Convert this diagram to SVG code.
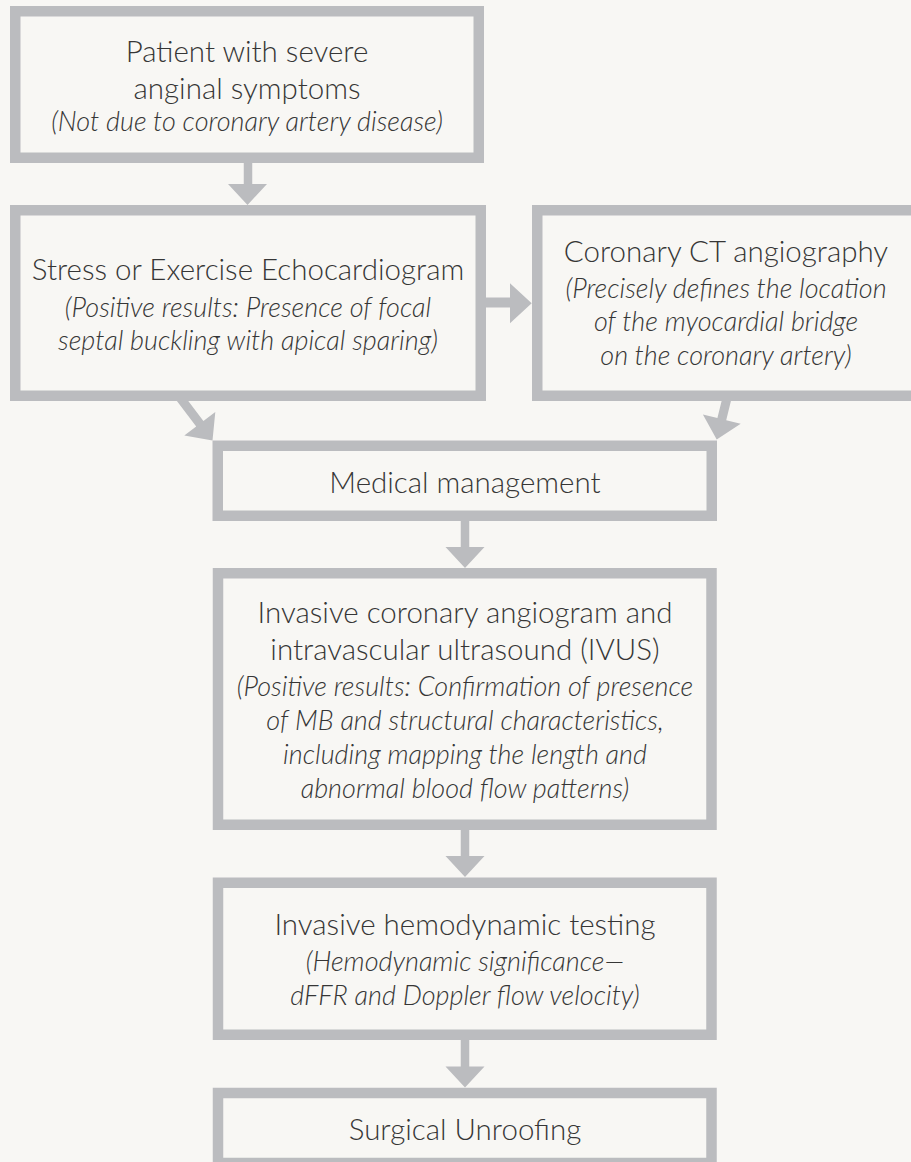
<svg xmlns="http://www.w3.org/2000/svg" width="911" height="1162" viewBox="0 0 911 1162">
<style>
.box{fill:none;stroke:#bbbcbf;stroke-width:10.5}
.arr{fill:#bbbcbf}
text{font-family:Lato,"Open Sans","Liberation Sans",sans-serif;font-weight:300;fill:#363636;text-anchor:middle}
.m{font-size:29.5px}
.i{font-size:27px;font-style:italic}
</style>
<rect width="911" height="1162" fill="#f8f7f4"/>
<g id="connectors">
<polygon class="arr" points="243.75,160 252.25,160 252.25,184 267,184 247.5,205 228,184 243.75,184"/>
<polygon class="arr" points="483,297.5 510,297.5 510,283.3 531.7,303.3 510,323.3 510,307.5 483,307.5"/>
<polygon class="arr" points="182.4,393.3 203.4,421.1 215.3,412 212.5,440.5 184.3,435.6 196.2,426.5 175.2,398.7"/>
<polygon class="arr" points="731.9,397.1 726.2,420.2 740.7,423.8 716.7,439.5 702.9,414.4 717.4,418 723.1,394.9"/>
<polygon class="arr" points="460.75,518 469.25,518 469.25,547 484.5,547 465,568 445.5,547 460.75,547"/>
<polygon class="arr" points="460.75,827 469.25,827 469.25,856 484.5,856 465,877 445.5,856 460.75,856"/>
<polygon class="arr" points="460.75,1037 469.25,1037 469.25,1066.5 484.5,1066.5 465,1087.5 445.5,1066.5 460.75,1066.5"/>
</g>
<g id="node-patient">
<rect class="box" x="15.25" y="11.25" width="463.5" height="146.5"/>
<text class="m" x="247" y="62">Patient with severe</text>
<text class="m" x="247" y="99">anginal symptoms</text>
<text class="i" x="247" y="131">(Not due to coronary artery disease)</text>
</g>
<g id="node-echo">
<rect class="box" x="15.25" y="210.25" width="465.5" height="185.5"/>
<text class="m" x="248" y="280">Stress or Exercise Echocardiogram</text>
<text class="i" x="248" y="316.5">(Positive results: Presence of focal</text>
<text class="i" x="248" y="350">septal buckling with apical sparing)</text>
</g>
<g id="node-ct">
<rect class="box" x="537.25" y="210.25" width="385" height="185.5"/>
<text class="m" x="726" y="261.5">Coronary CT angiography</text>
<text class="i" x="726" y="297.5">(Precisely defines the location</text>
<text class="i" x="726" y="331">of the myocardial bridge</text>
<text class="i" x="726" y="365">on the coronary artery)</text>
</g>
<g id="node-medical">
<rect class="box" x="217.75" y="445.75" width="494" height="70"/>
<text class="m" x="465" y="492.5">Medical management</text>
</g>
<g id="node-invasive">
<rect class="box" x="218" y="573.25" width="493.5" height="251.5"/>
<text class="m" x="465" y="623">Invasive coronary angiogram and</text>
<text class="m" x="465" y="660">intravascular ultrasound (IVUS)</text>
<text class="i" x="465" y="696">(Positive results: Confirmation of presence</text>
<text class="i" x="465" y="730">of MB and structural characteristics,</text>
<text class="i" x="465" y="764">including mapping the length and</text>
<text class="i" x="465" y="798">abnormal blood flow patterns)</text>
</g>
<g id="node-hemo">
<rect class="box" x="218" y="882.75" width="493.5" height="152"/>
<text class="m" x="465" y="935">Invasive hemodynamic testing</text>
<text class="i" x="465" y="971">(Hemodynamic significance—</text>
<text class="i" x="465" y="1005">dFFR and Doppler flow velocity)</text>
</g>
<g id="node-surgical">
<rect class="box" x="218" y="1093" width="493.5" height="70"/>
<text class="m" x="465" y="1140">Surgical Unroofing</text>
</g>
</svg>
